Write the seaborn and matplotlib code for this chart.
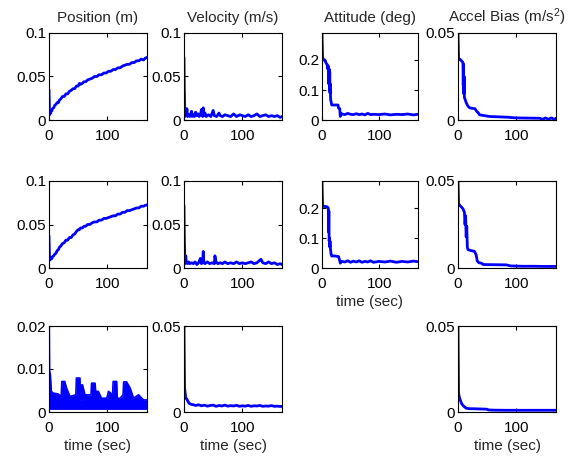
import numpy as np
import pandas as pd
import matplotlib
matplotlib.use("Agg")
import matplotlib.pyplot as plt
import seaborn as sns

# ---------------- data ----------------
titles = ["Position (m)", "Velocity (m/s)", "Attitude (deg)", "Accel Bias (m/s$^2$)"]
xlabel_text = "time (sec)"

pos_t = [0, 0.5, 1, 2, 3, 4, 5, 6, 8, 10,
         12, 14, 16, 18, 20, 23, 26, 29, 32, 35,
         38, 41, 44, 47, 50, 52, 54, 57, 60, 63,
         66, 70, 74, 78, 82, 86, 90, 94, 98, 102,
         106, 110, 114, 118, 122, 126, 130, 134, 138, 142,
         146, 150, 154, 158, 162, 165, 168]
pos1_v = [0.035, 0.020, 0.006, 0.009, 0.008, 0.011, 0.011, 0.013, 0.014, 0.017,
          0.018, 0.020, 0.020, 0.023, 0.024, 0.027, 0.027, 0.030, 0.030, 0.033,
          0.034, 0.036, 0.036, 0.039, 0.039, 0.042, 0.041, 0.042, 0.044, 0.044,
          0.046, 0.047, 0.048, 0.050, 0.050, 0.052, 0.052, 0.054, 0.054, 0.056,
          0.056, 0.058, 0.058, 0.060, 0.060, 0.062, 0.063, 0.064, 0.064, 0.066,
          0.066, 0.068, 0.068, 0.070, 0.069, 0.071, 0.072]
pos2_v = [0.037, 0.020, 0.009, 0.011, 0.010, 0.012, 0.011, 0.013, 0.014, 0.016,
          0.017, 0.020, 0.021, 0.024, 0.025, 0.028, 0.029, 0.032, 0.032, 0.035,
          0.035, 0.038, 0.039, 0.042, 0.044, 0.044, 0.046, 0.046, 0.048, 0.048,
          0.050, 0.050, 0.052, 0.053, 0.053, 0.055, 0.055, 0.057, 0.057, 0.058,
          0.059, 0.060, 0.060, 0.062, 0.062, 0.064, 0.064, 0.066, 0.066, 0.067,
          0.068, 0.069, 0.069, 0.071, 0.071, 0.072, 0.0725]

vel1_t = [0, 0.5, 1.5, 2.5, 4, 5, 6, 8, 10, 12,
          13, 14, 16, 18, 20, 22, 24, 26, 28, 30,
          32, 33, 34, 36, 38, 42, 46, 50, 52, 56,
          60, 62, 66, 70, 75, 80, 85, 90, 96, 100,
          105, 110, 115, 120, 125, 130, 135, 140, 145, 150,
          155, 160, 165, 168]
vel1_v = [0.072, 0.040, 0.004, 0.012, 0.005, 0.013, 0.004, 0.006, 0.004, 0.008,
          0.010, 0.004, 0.006, 0.004, 0.009, 0.005, 0.007, 0.004, 0.006, 0.012,
          0.004, 0.014, 0.005, 0.008, 0.004, 0.006, 0.004, 0.011, 0.005, 0.004,
          0.008, 0.005, 0.004, 0.006, 0.005, 0.004, 0.007, 0.004, 0.006, 0.005,
          0.004, 0.006, 0.004, 0.005, 0.007, 0.004, 0.005, 0.006, 0.004, 0.005,
          0.004, 0.005, 0.003, 0.004]

vel2_t = [0, 0.5, 1.5, 3, 4, 6, 8, 10, 13, 16,
          19, 22, 25, 28, 30, 32, 33, 34, 36, 40,
          44, 48, 52, 53, 55, 58, 62, 66, 70, 75,
          80, 85, 90, 95, 100, 105, 110, 115, 120, 125,
          130, 132, 135, 140, 145, 150, 155, 160, 165, 168]
vel2_v = [0.072, 0.040, 0.005, 0.014, 0.006, 0.005, 0.007, 0.005, 0.006, 0.005,
          0.007, 0.004, 0.006, 0.011, 0.005, 0.008, 0.019, 0.006, 0.005, 0.007,
          0.005, 0.006, 0.005, 0.014, 0.007, 0.005, 0.006, 0.005, 0.007, 0.005,
          0.006, 0.005, 0.007, 0.005, 0.006, 0.005, 0.006, 0.007, 0.005, 0.006,
          0.009, 0.010, 0.006, 0.005, 0.007, 0.005, 0.006, 0.004, 0.005, 0.004]

att1_t = [0, 1, 2, 5, 7, 9, 10, 11, 12, 12.5,
          13, 13.5, 14, 14.5, 15, 16, 17, 22, 28, 29,
          31, 32, 33, 35, 40, 45, 50, 55, 60, 65,
          70, 75, 80, 85, 90, 100, 110, 120, 130, 140,
          150, 160, 168]
att1_v = [0.29, 0.21, 0.20, 0.20, 0.19, 0.185, 0.17, 0.18, 0.12, 0.17,
          0.10, 0.16, 0.09, 0.12, 0.07, 0.06, 0.05, 0.05, 0.05, 0.04,
          0.038, 0.012, 0.022, 0.020, 0.018, 0.022, 0.019, 0.018, 0.021, 0.018,
          0.020, 0.017, 0.022, 0.018, 0.019, 0.018, 0.020, 0.017, 0.019, 0.018,
          0.020, 0.017, 0.019]

att2_t = [0, 1, 3, 6, 9, 11, 11.5, 12, 12.5, 13,
          13.5, 14, 15, 16, 17, 23, 29, 31, 32, 34,
          40, 45, 50, 55, 60, 65, 70, 75, 80, 85,
          90, 100, 110, 120, 130, 140, 150, 160, 168]
att2_v = [0.29, 0.21, 0.205, 0.205, 0.204, 0.20, 0.12, 0.19, 0.09, 0.10,
          0.07, 0.09, 0.06, 0.045, 0.040, 0.040, 0.038, 0.025, 0.016, 0.022,
          0.020, 0.024, 0.019, 0.023, 0.020, 0.024, 0.019, 0.022, 0.020, 0.024,
          0.019, 0.022, 0.020, 0.023, 0.019, 0.022, 0.020, 0.023, 0.021]

acc1_t = [0, 1, 3, 6, 8.5, 9, 9.5, 10, 10.5, 11,
          12, 14, 17, 20, 23, 29, 32, 35, 37, 45,
          55, 70, 85, 100, 120, 140, 145, 150, 155, 160,
          165, 168]
acc1_v = [0.05, 0.035, 0.035, 0.034, 0.033, 0.020, 0.032, 0.015, 0.025, 0.013,
          0.012, 0.010, 0.008, 0.007, 0.0068, 0.0065, 0.005, 0.004, 0.003, 0.0025,
          0.002, 0.0018, 0.0016, 0.0012, 0.0011, 0.0010, 0.0004, 0.0012, 0.0004, 0.0012,
          0.0004, 0.0010]

acc2_t = [0, 1, 3, 6, 8.6, 11, 12, 13, 14, 15,
          16, 17, 22, 28, 31, 33, 36, 40, 43, 60,
          83, 90, 110, 130, 150, 168]
acc2_v = [0.05, 0.037, 0.036, 0.035, 0.034, 0.032, 0.025, 0.030, 0.018, 0.024,
          0.012, 0.0106, 0.010, 0.0096, 0.0077, 0.004, 0.003, 0.0028, 0.002, 0.0019,
          0.0018, 0.0012, 0.0010, 0.0010, 0.0009, 0.0009]

pos3_t = [0, 0.5, 1, 2.3, 4, 7, 15.5, 21, 22, 27,
          30, 36, 46, 47, 53, 54, 55, 56, 57.5, 63,
          64, 72, 73, 79, 80, 84.5, 90, 99, 102, 109,
          110, 116, 117, 122, 127, 128, 133, 139, 145, 153.5,
          162, 168]
pos3_upper = [0.020, 0.020, 0.0095, 0.0087, 0.0048, 0.0044, 0.0042, 0.0036, 0.0071, 0.0071,
              0.0056, 0.0036, 0.0040, 0.0079, 0.0079, 0.0028, 0.0028, 0.0063, 0.0063, 0.0032,
              0.0040, 0.0040, 0.0067, 0.0067, 0.0048, 0.0048, 0.0032, 0.0032, 0.0048, 0.0040,
              0.0071, 0.0071, 0.0032, 0.0032, 0.0040, 0.0070, 0.0070, 0.0056, 0.0032, 0.0040,
              0.0028, 0.0028]
pos3_lower = 0.0006

vel3_t = [0, 0.5, 1, 3, 5, 7, 9, 12, 16, 20,
          25, 30, 35, 40, 45, 50, 55, 60, 65, 70,
          75, 80, 85, 90, 95, 100, 105, 110, 115, 120,
          125, 130, 135, 140, 145, 150, 155, 160, 165, 168]
vel3_v = [0.050, 0.030, 0.014, 0.008, 0.0075, 0.006, 0.005, 0.0045, 0.0042, 0.0038,
          0.0042, 0.0036, 0.0040, 0.0034, 0.0038, 0.0040, 0.0033, 0.0038, 0.0035, 0.0040,
          0.0034, 0.0037, 0.0035, 0.0039, 0.0033, 0.0036, 0.0034, 0.0038, 0.0033, 0.0036,
          0.0035, 0.0038, 0.0033, 0.0035, 0.0034, 0.0037, 0.0033, 0.0034, 0.0032, 0.0033]

acc3_t = [0, 0.5, 1, 2, 4, 6, 8, 11, 14, 20,
          28, 35, 45, 50, 52, 60, 80, 100, 120, 140,
          160, 168]
acc3_v = [0.050, 0.030, 0.011, 0.009, 0.0068, 0.005, 0.004, 0.003, 0.0022, 0.0019,
          0.0019, 0.0018, 0.0017, 0.0016, 0.0012, 0.0011, 0.0010, 0.0010, 0.0010, 0.0010,
          0.0010, 0.0010]

x_ticks = [0, 100]
x_tick_labels = ["0", "100"]
ticks_pos = [0, 0.05, 0.1]
labels_pos = ["0", "0.05", "0.1"]
ticks_att = [0, 0.1, 0.2]
labels_att = ["0", "0.1", "0.2"]
ticks_005 = [0, 0.05]
labels_005 = ["0", "0.05"]
ticks_002 = [0, 0.01, 0.02]
labels_002 = ["0", "0.01", "0.02"]

# ---------------- style ----------------
sns.set_style("ticks")
plt.rcParams["font.family"] = ["Liberation Sans", "DejaVu Sans"]
plt.rcParams["mathtext.fontset"] = "custom"
plt.rcParams["mathtext.rm"] = "Liberation Sans"
plt.rcParams["mathtext.it"] = "Liberation Sans"
FS = 11

W, H = 574, 458
fig = plt.figure(figsize=(W / 100, H / 100), dpi=100)

col_x = [(49, 147), (184, 282), (322, 418), (458, 556)]
row_y = [(33, 120), (181, 268), (326, 412)]

BLUE = "#0000ff"


def make_ax(r, c):
    x0, x1 = col_x[c]
    y0, y1 = row_y[r]
    return fig.add_axes([x0 / W, 1 - y1 / H, (x1 - x0) / W, (y1 - y0) / H])


def style(ax, ylim, yt, ytl, title=None, xlabel=None):
    ax.set_xlim(0, 168)
    ax.set_ylim(*ylim)
    ax.set_xticks(x_ticks)
    ax.set_xticklabels(x_tick_labels)
    ax.set_yticks(yt)
    ax.set_yticklabels(ytl)
    ax.tick_params(direction="in", length=3, width=0.8, top=True, right=True,
                   labelsize=FS, colors="black")
    ax.tick_params(axis="x", pad=6.5)
    ax.tick_params(axis="y", pad=2)
    for s in ax.spines.values():
        s.set_visible(True)
        s.set_color("black")
        s.set_linewidth(0.8)
    ax.set_ylabel("")
    ax.set_xlabel(xlabel if xlabel else "", fontsize=FS, labelpad=3)
    if title:
        ax.set_title(title, fontsize=FS, pad=8)


def line(ax, t, v, lw=2.0):
    df = pd.DataFrame({"t": t, "v": v})
    sns.lineplot(data=df, x="t", y="v", ax=ax, color=BLUE, linewidth=lw,
                 estimator=None, sort=False)


# Row 1
ax = make_ax(0, 0); line(ax, pos_t, pos1_v)
style(ax, (0, 0.1), ticks_pos, labels_pos, title=titles[0])
ax = make_ax(0, 1); line(ax, vel1_t, vel1_v)
style(ax, (0, 0.1), ticks_pos, labels_pos, title=titles[1])
ax = make_ax(0, 2); line(ax, att1_t, att1_v)
style(ax, (0, 0.29), ticks_att, labels_att, title=titles[2])
ax = make_ax(0, 3); line(ax, acc1_t, acc1_v)
style(ax, (0, 0.05), ticks_005, labels_005, title=titles[3])

# Row 2
ax = make_ax(1, 0); line(ax, pos_t, pos2_v)
style(ax, (0, 0.1), ticks_pos, labels_pos)
ax = make_ax(1, 1); line(ax, vel2_t, vel2_v)
style(ax, (0, 0.1), ticks_pos, labels_pos)
ax = make_ax(1, 2); line(ax, att2_t, att2_v)
style(ax, (0, 0.29), ticks_att, labels_att, xlabel=xlabel_text)
ax = make_ax(1, 3); line(ax, acc2_t, acc2_v)
style(ax, (0, 0.05), ticks_005, labels_005)

# Row 3
ax = make_ax(2, 0)
ax.fill_between(pos3_t, pos3_lower, pos3_upper, color=BLUE, linewidth=0)
line(ax, pos3_t, pos3_upper, lw=1.2)
style(ax, (0, 0.02), ticks_002, labels_002, xlabel=xlabel_text)
ax = make_ax(2, 1); line(ax, vel3_t, vel3_v)
style(ax, (0, 0.05), ticks_005, labels_005, xlabel=xlabel_text)
ax = make_ax(2, 3); line(ax, acc3_t, acc3_v)
style(ax, (0, 0.05), ticks_005, labels_005, xlabel=xlabel_text)

fig.savefig("out.png", dpi=100, facecolor="white")
